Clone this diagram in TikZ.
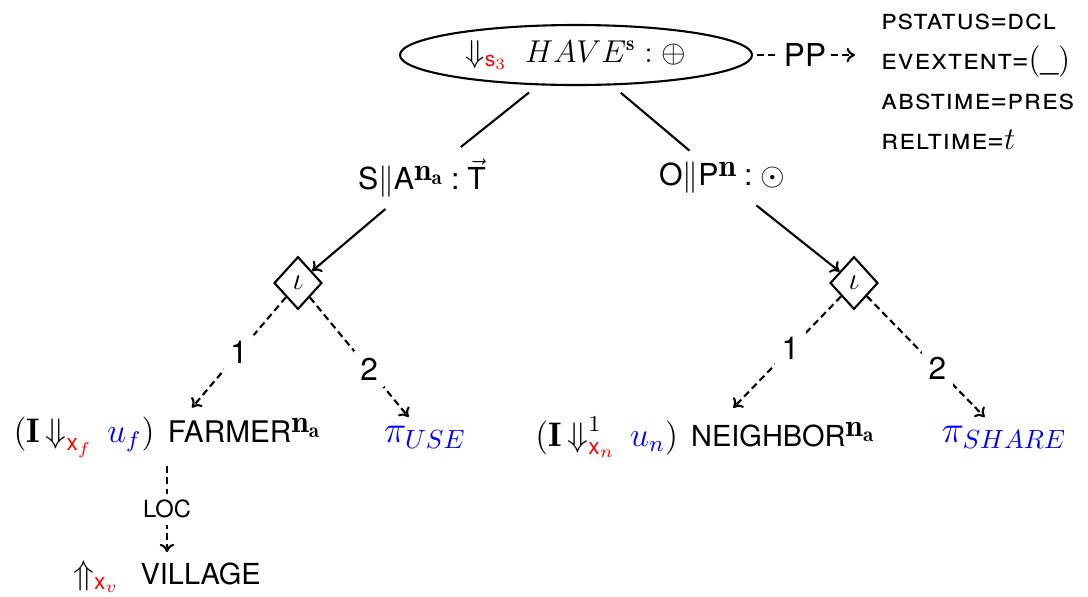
\documentclass[tikz,border=0pt]{standalone}
\usepackage{amsmath}
\usepackage{fontspec}
\newfontfamily\hv{TeX Gyre Heros}
\newfontfamily\hvsc[Letters=SmallCaps,LetterSpace=3]{TeX Gyre Heros}
\usetikzlibrary{shapes.geometric,arrows.meta,calc}
\newcommand\sftxt[1]{\text{\hv #1}}
% raised bold feature marks after sans words
\newcommand\featsup[1]{\raisebox{3.6pt}{\large$\mathbf{#1}$}}

\begin{document}
\begin{tikzpicture}[x=0.38pt,y=-0.38pt,
  line width=0.8pt,
  arr/.style={-{To[length=3.2pt,width=5.5pt]}},
  dashline/.style={dash pattern=on 2.6pt off 1.6pt},
  dasharr/.style={dashline,arr},
  tnode/.style={inner sep=3pt},
  lab/.style={fill=white,inner sep=2.5pt,font=\hv\large},
  topnode/.style={ellipse,draw,inner sep=0pt,minimum width=133.8pt,minimum height=22.8pt,outer sep=2pt},
  choice/.style={diamond,draw,inner sep=0pt,minimum width=18.2pt,minimum height=20pt},
]
\useasboundingbox (0,0) rectangle (1088,596);

% root and the attribute record
\node[topnode] (have) at (576,55)
  {\large $\Downarrow_{\color{red}\sftxt{s}_3}\; HAVE^{\mathbf{s}} : \oplus$};
\node[tnode,inner sep=1.5pt] (pp) at (805,55) {\large\hv PP};
\node[anchor=west,align=left,inner xsep=9.5pt,inner ysep=0pt,
      font={\hvsc\fontsize{11}{15.2}\selectfont}] (attr) at (855,82)
  {pstatus{\hv=}dcl\\
   evextent{\hv=}\large$(\_)$\\
   abstime{\hv=}pres\\
   reltime{\hv=}\large$t$};

% second level
\node[tnode,inner sep=4pt,font=\hv\fontsize{11.5}{13}\selectfont] (sa) at (422,178)
  {S$\|$A\featsup{n_a}\hspace{3pt}:\hspace{3pt}$\vec{\sftxt{T}}$};
\node[tnode,inner sep=4pt,font=\hv\fontsize{11.5}{13}\selectfont] (op) at (722,178)
  {O$\|$P\featsup{n}\hspace{3pt}:\hspace{3pt}\large$\odot$};

% choice points
\node[choice] (ldia) at (298,283) {\large$\iota$};
\node[choice] (rdia) at (854,283) {\large$\iota$};

% leaves
\node[tnode] (farmer) at (167,437)
  {\large\scalebox{1.08}{$(\mathbf{I}\,{\Downarrow}_{\color{red}\sftxt{x}_f}\hspace{5pt}{\color{blue}u_f})$}\hspace{5pt}{\hv\fontsize{11.3}{13}\selectfont FARMER}\featsup{n_a}};
\node[tnode] (use) at (425,437) {\Large\color{blue}$\pi_{USE}$};
\node[tnode] (nb) at (705,437)
  {\large\scalebox{1.08}{$(\mathbf{I}\,{\Downarrow}^1_{\color{red}\sftxt{x}_n}\hspace{5pt}{\color{blue}u_n})$}\hspace{5pt}{\hv\fontsize{11}{13}\selectfont NEIGHBOR}\featsup{n_a}};
\node[tnode] (share) at (1004,437) {\Large\color{blue}$\pi_{SHARE}$};
\node[tnode] (village) at (167,577)
  {\large\scalebox{1.08}{$\Uparrow_{\color{red}\sftxt{x}_v}$}\hspace{8pt}{\hv\fontsize{11}{13}\selectfont VILLAGE}};

% connectors
\draw[dashline] (have) -- (pp);
\draw[dasharr] (pp) -- (pp -| attr.west);
\draw[shorten <=2pt] (have) -- (sa);
\draw[shorten <=2pt] (have) -- (op);
\draw[arr] (sa) -- (ldia);
\draw[arr] (op) -- (rdia);
\draw[dasharr] (ldia) -- node[lab]{1} (farmer);
\draw[dasharr] (ldia) -- node[lab,pos=0.6]{2} (use);
\draw[dasharr] (rdia) -- node[lab,pos=0.47]{1} (nb);
\draw[dasharr] (rdia) -- node[lab,pos=0.6]{2} (share);
\draw[dasharr] (farmer) -- node[lab,font=\hv\small]{LOC} (village);
\end{tikzpicture}
\end{document}
